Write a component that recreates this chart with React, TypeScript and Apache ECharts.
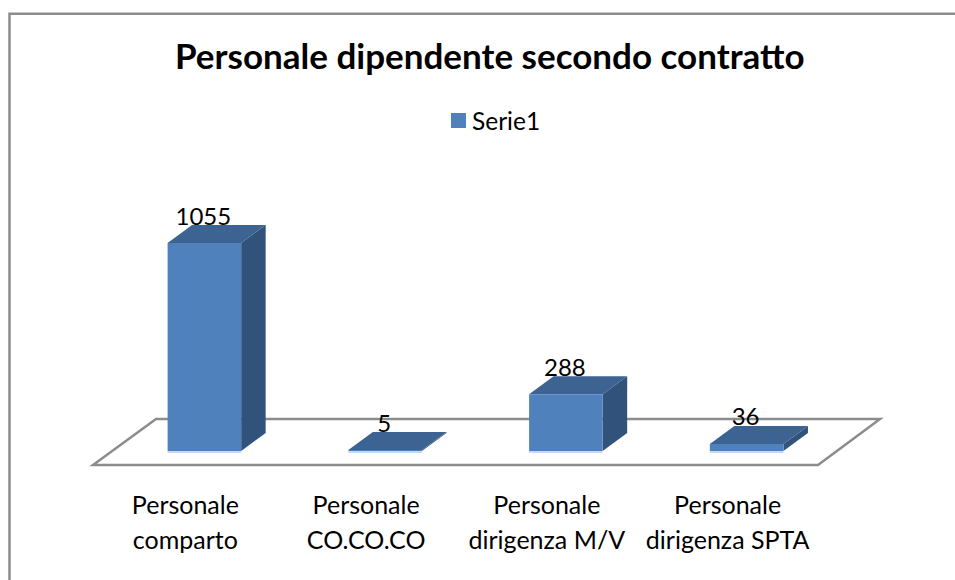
import React, { useEffect, useRef } from "react";
import * as echarts from "echarts";

const chartTitle = "Personale dipendente secondo contratto";
const seriesName = "Serie1";
const categories = [
  "Personale\ncomparto",
  "Personale\nCO.CO.CO",
  "Personale\ndirigenza M/V",
  "Personale\ndirigenza SPTA",
];
const values = [1055, 5, 288, 36];

const FONT = "Lato, 'Open Sans', sans-serif";
const FRONT = "#4f81bd";
const TOP = "#3c6391";
const SIDE = "#31527b";
const FRAME = "#8c8c8c";

const renderBar = (params: any, api: any) => {
  const idx = api.value(0);
  const v = api.value(1);
  const [cx, top] = api.coord([idx, v]);
  const [, base] = api.coord([idx, 0]);
  const w = api.size([1, 0])[0] * 0.407;
  const l = cx - w / 2;
  const r = cx + w / 2;
  const dx = 24.5;
  const dy = 18;
  return {
    type: "group",
    children: [
      {
        type: "rect",
        shape: { x: l, y: base, width: w, height: 2 },
        style: { fill: "#c6d9f0" },
      },
      {
        type: "polygon",
        shape: { points: [[r, top], [r + dx, top - dy], [r + dx, base - dy], [r, base]] },
        style: { fill: SIDE },
      },
      {
        type: "polygon",
        shape: { points: [[l, top], [l + dx, top - dy], [r + dx, top - dy], [r, top]] },
        style: { fill: TOP },
      },
      {
        type: "rect",
        shape: { x: l, y: top, width: w, height: base - top },
        style: { fill: FRONT },
      },
      {
        type: "text",
        z2: 10,
        style: {
          x: cx - 1,
          y: top - dy + 2,
          text: String(v),
          fill: "#000",
          font: `24px ${FONT}`,
          textAlign: "center",
          textVerticalAlign: "bottom",
        },
      },
    ],
  };
};

export default function App() {
  const ref = useRef<HTMLDivElement>(null);
  useEffect(() => {
    const chart = echarts.init(ref.current!, undefined, { renderer: "svg" });
    chart.setOption({
      animation: false,
      backgroundColor: "#fff",
      textStyle: { fontFamily: FONT },
      title: {
        text: chartTitle,
        left: 175,
        top: 37,
        padding: 0,
        textStyle: { fontFamily: FONT, fontSize: 35, fontWeight: "bold", color: "#000" },
      },
      legend: {
        left: 451,
        top: 108,
        padding: 0,
        itemWidth: 15,
        itemHeight: 15,
        itemGap: 5,
        icon: "rect",
        data: [seriesName],
        textStyle: { fontFamily: FONT, fontSize: 24.5, color: "#000", padding: [0, 0, 6, 1] },
      },
      grid: { left: 114, width: 723, top: 155.3, height: 295.7 },
      xAxis: {
        type: "category",
        data: categories,
        axisLine: { show: false },
        axisTick: { show: false },
        axisLabel: {
          interval: 0,
          margin: 35,
          fontFamily: FONT,
          fontSize: 25,
          lineHeight: 35,
          color: "#000",
          padding: [0, 38, 0, 0],
        },
      },
      yAxis: { type: "value", min: 0, max: 1500, show: false, splitLine: { show: false } },
      graphic: [
        {
          type: "polyline",
          z: 0,
          shape: { points: [[9.5, 580], [9.5, 13.7], [955, 13.7]] },
          style: { fill: "none", stroke: FRAME, lineWidth: 2.5 },
        },
        {
          type: "polygon",
          z: 0,
          shape: { points: [[93, 465], [156, 419], [880, 419], [818, 465]] },
          style: { fill: "#fff", stroke: FRAME, lineWidth: 2.5 },
        },
      ],
      series: [
        {
          type: "custom",
          name: seriesName,
          z: 5,
          itemStyle: { color: FRONT },
          renderItem: renderBar,
          encode: { x: 0, y: 1 },
          data: values.map((v, i) => [i, v]),
        },
      ],
    });
    return () => chart.dispose();
  }, []);
  return (
    <div
      ref={ref}
      style={{ position: "absolute", left: 0, top: 0, width: 955, height: 580 }}
    />
  );
}
